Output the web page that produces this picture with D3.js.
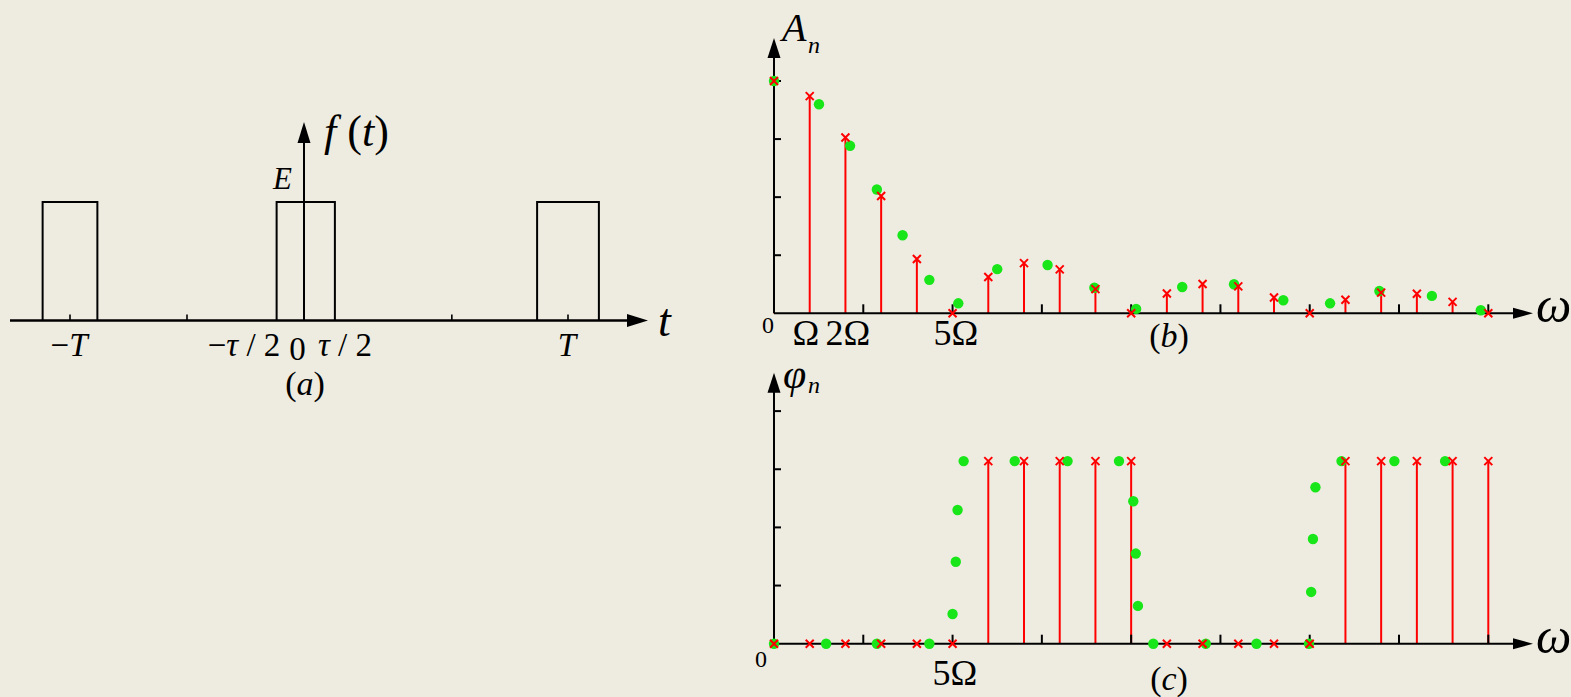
<!DOCTYPE html>
<html>
<head>
<meta charset="utf-8">
<script src="https://cdn.jsdelivr.net/npm/d3@7"></script>
<style>
  html, body { margin: 0; padding: 0; background: #EEECE1; }
  svg { display: block; }
  text { font-family: "Liberation Serif", "Times New Roman", serif; fill: #000; }
</style>
</head>
<body>
<svg id="chart" width="1571" height="697" font-family="Liberation Serif, serif"></svg>
<script>
// ---- (a) periodic rectangular pulse train, period T = 1, width tau ----
const pulseCenters = [-1, 0, 1];
const pulseWidth = 0.234;
const pulseHeight = 1;
const timeTicks = [-1, -0.5, 0.56, 1];

// ---- (b), (c) line spectrum: harmonic index n (ω = nΩ) ----
const harmonics = [0, 1, 2, 3, 4, 5, 6, 7, 8, 9, 10, 11, 12, 13, 14, 15, 16, 17, 18, 19, 20];
const lineAmp = [1.00, 0.935, 0.757, 0.505, 0.234, 0, 0.156, 0.216, 0.189, 0.104, 0,
                 0.085, 0.126, 0.116, 0.068, 0, 0.058, 0.089, 0.084, 0.049, 0];
const linePhase = [0, 0, 0, 0, 0, 0, 3.14, 3.14, 3.14, 3.14, 3.14,
                   0, 0, 0, 0, 0, 3.14, 3.14, 3.14, 3.14, 3.14];

// points on the continuous amplitude envelope (ω in units of Ω)
const envFreq = [0, 1.26, 2.13, 2.88, 3.60, 4.35, 5.16, 6.25, 7.66, 8.97, 10.14,
                 11.43, 12.88, 14.26, 15.57, 16.95, 18.42, 19.79];
const envAmp = [1.00, 0.90, 0.721, 0.533, 0.336, 0.144, 0.043, 0.190, 0.208, 0.110, 0.019,
                0.113, 0.125, 0.056, 0.043, 0.096, 0.075, 0.013];

// points on the continuous phase curve
const envPhaseFreq = [0, 1.46, 2.88, 4.35, 5.00, 5.09, 5.14, 5.31, 6.74, 8.22, 9.66,
                      10.06, 10.13, 10.19, 10.62, 12.09, 13.51, 14.98, 15.04, 15.09, 15.16,
                      15.89, 17.37, 18.79];
const envPhase = [0, 0, 0, 0, 0.51, 1.41, 2.30, 3.14, 3.14, 3.14, 3.14,
                  2.45, 1.55, 0.65, 0, 0, 0, 0, 0.89, 1.80, 2.69,
                  3.14, 3.14, 3.14];

const freqTicks = [2.5, 5, 7.5, 10, 12.5, 15, 17.5, 20];
const ampTicks = [0.25, 0.5, 0.75, 1];
const phaseTicks = [1, 2, 3, 4];

const RED = "#FF0000";
const GREEN = "#18E618";

const svg = d3.select("#chart");

// text helper: segments of [string, italic?]
function richText(g, x, y, size, segs, anchor) {
  const t = g.append("text")
    .attr("x", x).attr("y", y)
    .attr("font-size", size)
    .attr("text-anchor", anchor || "start");
  segs.forEach(([s, it]) => {
    t.append("tspan").text(s).attr("font-style", it ? "italic" : "normal");
  });
  return t;
}

function arrowRight(g, x0, x1, y, len, half) {
  g.append("line").attr("x1", x0).attr("x2", x1 - len + 1).attr("y1", y).attr("y2", y);
  g.append("path").attr("d", `M${x1},${y}L${x1 - len},${y - half}L${x1 - len},${y + half}Z`)
    .attr("fill", "#000").attr("stroke", "none");
}
function arrowUp(g, x, y0, y1, len, half) {
  g.append("line").attr("x1", x).attr("x2", x).attr("y1", y0).attr("y2", y1 + len - 1);
  g.append("path").attr("d", `M${x},${y1}L${x - half},${y1 + len}L${x + half},${y1 + len}Z`)
    .attr("fill", "#000").attr("stroke", "none");
}

// ================= (a) =================
{
  const x = d3.scaleLinear().domain([-1, 0, 1]).range([70, 304, 568]);
  const y = d3.scaleLinear().domain([0, pulseHeight]).range([320.5, 202]);
  const g = svg.append("g").attr("stroke", "#000").attr("fill", "none");

  // pulses
  g.selectAll("path.pulse").data(pulseCenters).join("path")
    .attr("class", "pulse")
    .attr("stroke-width", 2)
    .attr("d", c => {
      const a = x(c - pulseWidth / 2), b = x(c + pulseWidth / 2);
      return `M${a},${y(0)}V${y(pulseHeight)}H${b}V${y(0)}`;
    });

  // ticks
  g.selectAll("line.tick").data(timeTicks).join("line")
    .attr("class", "tick").attr("stroke-width", 1.6)
    .attr("x1", d => x(d)).attr("x2", d => x(d))
    .attr("y1", y(0)).attr("y2", y(0) - 6);

  // axes
  const ax = g.append("g").attr("stroke-width", 2.6);
  arrowRight(ax, 10, 648, y(0), 21, 6.5);
  const ay = g.append("g").attr("stroke-width", 2);
  arrowUp(ay, x(0), y(0), 122, 21, 6.5);

  const tg = svg.append("g");
  richText(tg, 658, 336, 46, [["t", true]]);
  richText(tg, 324, 146, 44, [["f", true], [" ", false], ["(", false], ["t", true], [")", false]]);
  richText(tg, 273, 189, 31, [["E", true]]);
  richText(tg, 69, 356, 33, [["−", false], ["T", true]], "middle");
  richText(tg, 244, 356, 33, [["−", false], ["τ", true], [" / 2", false]], "middle");
  richText(tg, 297.5, 360, 33, [["0", false]], "middle");
  richText(tg, 345, 356, 33, [["τ", true], [" / 2", false]], "middle");
  richText(tg, 567, 356, 33, [["T", true]], "middle");
  richText(tg, 305, 395, 34, [["(", false], ["a", true], [")", false]], "middle");
}

// ================= spectrum panels =================
const xw = d3.scaleLinear().domain([0, 20]).range([774, 1488.3]);

function redX(g, pts) {
  g.selectAll("path.rx").data(pts).join("path")
    .attr("class", "rx")
    .attr("transform", d => `translate(${d[0]},${d[1]})`)
    .attr("d", "M-4,-4L4,4M-4,4L4,-4")
    .attr("stroke", RED).attr("stroke-width", 2).attr("fill", "none");
}

// ---- (b) amplitude ----
{
  const y = d3.scaleLinear().domain([0, 1]).range([313.3, 81]);
  const g = svg.append("g");

  // stems
  g.append("g").selectAll("line").data(harmonics.filter(n => lineAmp[n] > 0)).join("line")
    .attr("x1", n => xw(n)).attr("x2", n => xw(n))
    .attr("y1", y(0)).attr("y2", n => y(lineAmp[n]))
    .attr("stroke", RED).attr("stroke-width", 2);

  const ax = g.append("g").attr("stroke", "#000").attr("stroke-width", 2);
  arrowRight(ax, 774, 1533, y(0), 20, 5.5);
  arrowUp(ax, 774, y(0), 38, 20, 6.5);
  ax.selectAll("line.xt").data(freqTicks).join("line").attr("class", "xt")
    .attr("x1", d => xw(d)).attr("x2", d => xw(d)).attr("y1", y(0)).attr("y2", y(0) - 9);
  ax.selectAll("line.yt").data(ampTicks).join("line").attr("class", "yt")
    .attr("x1", 774).attr("x2", 781).attr("y1", d => y(d)).attr("y2", d => y(d));

  g.append("g").selectAll("circle").data(envFreq).join("circle")
    .attr("cx", d => xw(d)).attr("cy", (d, i) => y(envAmp[i])).attr("r", 5.2)
    .attr("fill", GREEN);

  redX(g.append("g"), harmonics.map(n => [xw(n), y(lineAmp[n])]));

  richText(g, 782, 41, 40, [["A", true]]);
  richText(g, 808, 53, 24, [["n", true]]);
  richText(g, 768, 333, 24, [["0", false]], "middle");
  richText(g, 806, 345, 36, [["Ω", false]], "middle");
  richText(g, 848, 345, 36, [["2Ω", false]], "middle");
  richText(g, 956, 345, 36, [["5Ω", false]], "middle");
  richText(g, 1536, 322, 50, [["ω", true]]);
  richText(g, 1169, 347, 34, [["(", false], ["b", true], [")", false]], "middle");
}

// ---- (c) phase ----
{
  const y = d3.scaleLinear().domain([0, 4]).range([643.7, 411.1]);
  const g = svg.append("g");

  g.append("g").selectAll("line").data(harmonics.filter(n => linePhase[n] > 0)).join("line")
    .attr("x1", n => xw(n)).attr("x2", n => xw(n))
    .attr("y1", y(0)).attr("y2", n => y(linePhase[n]))
    .attr("stroke", RED).attr("stroke-width", 2);

  const ax = g.append("g").attr("stroke", "#000").attr("stroke-width", 2);
  arrowRight(ax, 774, 1533, y(0), 20, 5.5);
  arrowUp(ax, 774, y(0), 372.7, 20, 6.5);
  ax.selectAll("line.xt").data(freqTicks).join("line").attr("class", "xt")
    .attr("x1", d => xw(d)).attr("x2", d => xw(d)).attr("y1", y(0)).attr("y2", y(0) - 9);
  ax.selectAll("line.yt").data(phaseTicks).join("line").attr("class", "yt")
    .attr("x1", 774).attr("x2", 781).attr("y1", d => y(d)).attr("y2", d => y(d));

  g.append("g").selectAll("circle").data(envPhaseFreq).join("circle")
    .attr("cx", d => xw(d)).attr("cy", (d, i) => y(envPhase[i])).attr("r", 5.2)
    .attr("fill", GREEN);

  redX(g.append("g"), harmonics.map(n => [xw(n), y(linePhase[n])]));

  richText(g, 783, 388, 42, [["φ", true]]);
  richText(g, 808, 393, 24, [["n", true]]);
  richText(g, 761, 667, 24, [["0", false]], "middle");
  richText(g, 955, 685, 36, [["5Ω", false]], "middle");
  richText(g, 1536, 653, 50, [["ω", true]]);
  richText(g, 1169, 690, 34, [["(", false], ["c", true], [")", false]], "middle");
}
</script>
</body>
</html>
